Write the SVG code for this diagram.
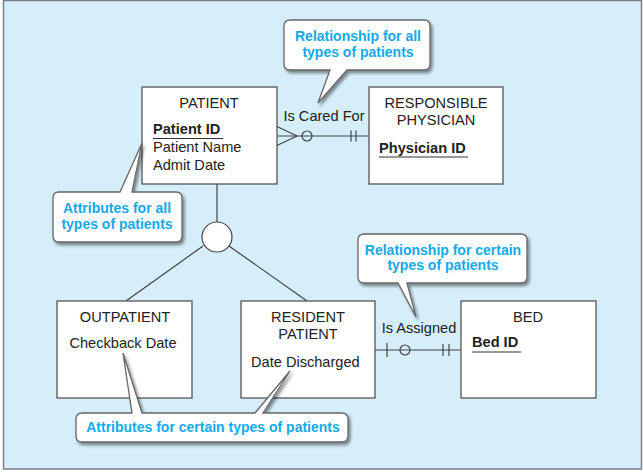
<svg xmlns="http://www.w3.org/2000/svg" width="643" height="472" viewBox="0 0 643 472">
<defs>
<style>
.ent{fill:#fff;stroke:#555;stroke-width:1.3}
.t{font-family:"Liberation Sans",Arial,sans-serif;font-size:14.6px;fill:#222}
.c{text-anchor:middle}
.k{font-weight:bold}
.ln{stroke:#444;stroke-width:1.2;fill:none}
.co{fill:#fff;stroke:#666;stroke-width:1.3;filter:url(#sh)}
.ct{font-family:"Liberation Sans",Arial,sans-serif;font-size:14px;font-weight:bold;fill:#14a9ea;text-anchor:middle}
</style>
<filter id="sh" x="-10%" y="-10%" width="130%" height="140%">
<feDropShadow dx="2" dy="2.5" stdDeviation="1.8" flood-color="#000" flood-opacity="0.45"/>
</filter>
</defs>
<rect x="3.5" y="0.5" width="638" height="468.5" fill="#d5eefa" stroke="#7a7f86" stroke-width="1.5"/>

<g id="connectors">
<line class="ln" x1="277" y1="136" x2="369" y2="136"/>
<polyline class="ln" points="277,126.5 297,136 277,145.5"/>
<circle class="ln" cx="307" cy="136" r="5" fill="#d5eefa"/>
<line class="ln" x1="351" y1="130.5" x2="351" y2="141.5"/>
<line class="ln" x1="356" y1="130.5" x2="356" y2="141.5"/>
<line class="ln" x1="217" y1="184" x2="217" y2="222"/>
<line class="ln" x1="203" y1="246" x2="126" y2="301"/>
<line class="ln" x1="229" y1="246" x2="307" y2="301"/>
<line class="ln" x1="375" y1="350" x2="461" y2="350"/>
<line class="ln" x1="387" y1="343" x2="387" y2="357"/>
<circle class="ln" cx="405" cy="350" r="5" fill="#d5eefa"/>
<line class="ln" x1="443" y1="344" x2="443" y2="356"/>
<line class="ln" x1="449" y1="344" x2="449" y2="356"/>
<text class="t c" x="324" y="121">Is Cared For</text>
<text class="t c" x="419" y="333">Is Assigned</text>
</g>

<g id="patient">
<rect class="ent" x="142" y="87" width="135" height="97"/>
<text class="t c" x="209" y="108">PATIENT</text>
<text class="t k" x="153" y="134">Patient ID</text>
<line x1="153" y1="138.5" x2="223" y2="138.5" stroke="#333" stroke-width="1"/>
<text class="t" x="153" y="152">Patient Name</text>
<text class="t" x="153" y="170">Admit Date</text>
</g>

<g id="physician">
<rect class="ent" x="369" y="87" width="134" height="97"/>
<text class="t c" x="436" y="108">RESPONSIBLE</text>
<text class="t c" x="436" y="125">PHYSICIAN</text>
<text class="t k" x="379" y="153">Physician ID</text>
<line x1="379" y1="157" x2="468" y2="157" stroke="#333" stroke-width="1"/>
</g>

<g id="subtype-circle">
<circle cx="217" cy="237" r="15" fill="#fff" stroke="#444" stroke-width="1.2"/>
</g>

<g id="outpatient">
<rect class="ent" x="57" y="301" width="135" height="97"/>
<text class="t c" x="125" y="322">OUTPATIENT</text>
<text class="t c" x="123" y="348">Checkback Date</text>
</g>

<g id="resident">
<rect class="ent" x="241" y="301" width="134" height="97"/>
<text class="t c" x="308" y="322">RESIDENT</text>
<text class="t c" x="308" y="339">PATIENT</text>
<text class="t" x="251" y="367">Date Discharged</text>
</g>

<g id="bed">
<rect class="ent" x="461" y="301" width="135" height="97"/>
<text class="t c" x="528" y="322">BED</text>
<text class="t k" x="472" y="347">Bed ID</text>
<line x1="472" y1="352" x2="521" y2="352" stroke="#333" stroke-width="1"/>
</g>

<g id="callout-rel-all">
<path class="co" d="M290,20 H424 Q430,20 430,26 V64 Q430,70 424,70 H347 L318,103 L330,70 H290 Q284,70 284,64 V26 Q284,20 290,20 Z"/>
<text class="ct" x="358" y="41">Relationship for all</text>
<text class="ct" x="358" y="57">types of patients</text>
</g>

<g id="callout-attr-all">
<path class="co" d="M59,192 H120 L142,143 L132,192 H176 Q182,192 182,198 V236 Q182,242 176,242 H59 Q53,242 53,236 V198 Q53,192 59,192 Z"/>
<text class="ct" x="117" y="213">Attributes for all</text>
<text class="ct" x="117" y="229">types of patients</text>
</g>

<g id="callout-rel-certain">
<path class="co" d="M364,234 H521 Q527,234 527,240 V277 Q527,283 521,283 H407 L416,317 L398,283 H364 Q358,283 358,277 V240 Q358,234 364,234 Z"/>
<text class="ct" x="443" y="255">Relationship for certain</text>
<text class="ct" x="443" y="270">types of patients</text>
</g>

<g id="callout-attr-certain">
<path class="co" d="M82,413 H132 L123,353 L142,413 H255 L290,371 L263,413 H342 Q348,413 348,419 V436 Q348,442 342,442 H82 Q76,442 76,436 V419 Q76,413 82,413 Z"/>
<text class="ct" x="213" y="432">Attributes for certain types of patients</text>
</g>
</svg>
